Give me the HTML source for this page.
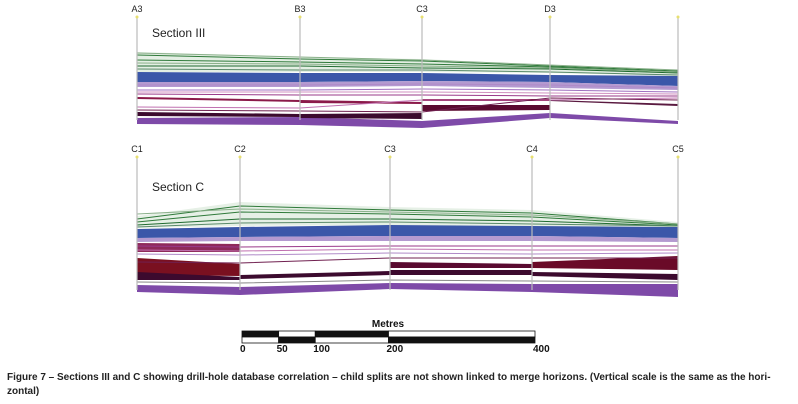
<!DOCTYPE html>
<html><head><meta charset="utf-8"><style>
html,body{margin:0;padding:0;background:#fff;width:798px;height:404px;overflow:hidden}
svg{position:absolute;left:0;top:0}
.cap{position:absolute;left:7px;font:bold 10px "Liberation Sans",Arial,sans-serif;color:#222;white-space:nowrap}
</style></head><body>
<svg id="chart" width="798" height="404" xmlns="http://www.w3.org/2000/svg"></svg>
<div class="cap" style="top:372px">Figure 7 – Sections III and C showing drill-hole database correlation – child splits are not shown linked to merge horizons. (Vertical scale is the same as the hori-</div>
<div class="cap" style="top:386px">zontal)</div>
<script>
// Section III
const holesIII = ["A3","B3","C3","D3",""];
const holeXIII = [137,300,422,550,678];
const fillsIII = [
 {c:"#e4efe4",t:[52,57,59,65,70],b:[72,72,72,73,76]},
 {c:"#3b57a9",t:[72,73,73,75,76],b:[82,82,81,82,86]},
 {c:"#b49ad0",t:[82,82,81,82,86],b:[87,87,86,88,90]},
 {c:"#7e4aa8",t:[118,117,121,113,121],b:[124,125,128,118,124]}
];
const segFillsIII = [
 {c:"#8b1a4a",i:0,t:[97,100],b:[99,102]},
 {c:"#8b1a4a",i:1,t:[100,102],b:[103,104]},
 {c:"#3c0a2e",i:0,t:[112,114],b:[116,117]},
 {c:"#3c0a2e",i:1,t:[114,113],b:[118,119]},
 {c:"#5a0a30",i:2,t:[105,105],b:[111,110]},
 {c:"#8b1a4a",i:2,t:[99,99],b:[101,101]},
 {c:"#5a1a40",i:3,t:[100,104],b:[101,106]}
];
const linesIII = [
 {c:"#2f7a3a",v:[55,59,61,66,71]},{c:"#2f7a3a",v:[60,62,64,67,72]},{c:"#1f6a2f",v:[66,66,68,69,73]},
 {c:"#8ab08a",v:[53,57,60,65,70]},{c:"#8ab08a",v:[63,64,66,68,72]},
 {c:"#5a8a6a",v:[69,70,70,72,75]},{c:"#a070c0",v:[90,90,89,90,92]},{c:"#9a3a8a",v:[94,95,95,96,96]},
 {c:"#c070b0",v:[107,108,100,100,98]},{c:"#702050",v:[110,111,112,98,100]},
 {c:"#b08ac8",v:[85,85,84,85,88]},{c:"#d090c0",v:[92,92,92,93,94]}
];
// Section C
const holesC = ["C1","C2","C3","C4","C5"];
const holeXC = [137,240,390,532,678];
const fillsC = [
 {c:"#e6f0e6",t:[216,202,207,210,222],b:[228,226,225,226,227]},
 {c:"#3b57a9",t:[229,227,225,226,227],b:[238,237,236,236,238]},
 {c:"#b49ad0",t:[238,237,236,236,238],b:[242,241,241,241,242]},
 {c:"#7e4aa8",t:[285,287,283,284,284],b:[292,295,289,292,297]}
];
const segFillsC = [
 {c:"#8e2a5a",i:0,t:[243,244],b:[252,252]},
 {c:"#7a1020",i:0,t:[258,264],b:[275,276]},
 {c:"#3c0a2e",i:0,t:[272,277],b:[280,280]},
 {c:"#3c0a2e",i:1,t:[275,271],b:[279,275]},
 {c:"#5a0a30",i:2,t:[262,264],b:[268,268]},
 {c:"#3c0a2e",i:2,t:[270,270],b:[275,275]},
 {c:"#6a0a28",i:3,t:[262,256],b:[268,270]},
 {c:"#3c0a2e",i:3,t:[272,274],b:[276,280]}
];
const linesC = [
 {c:"#2f7a3a",v:[219,206,210,213,224]},{c:"#2f7a3a",v:[222,212,214,217,225]},{c:"#1f6a2f",v:[225,219,219,221,226]},
 {c:"#8ab08a",v:[214,209,212,215,224]},{c:"#5a8a6a",v:[227,223,222,224,226]},
 {c:"#9a3a8a",v:[246,247,246,246,246]},{c:"#c070b0",v:[250,251,249,250,250]},{c:"#702050",v:[262,263,258,258,258]},
 {c:"#b08ac8",v:[254,255,253,254,253]},{c:"#888",v:[282,283,280,281,282]}
];
const NS="http://www.w3.org/2000/svg";
const svg=document.getElementById('chart');
function mk(tag,attrs){const e=document.createElementNS(NS,tag);for(const k in attrs)e.setAttribute(k,attrs[k]);svg.appendChild(e);return e;}
function drawSection(name,holes,xs,fills,segs,lines,collarY,lineTop,lineBot,title,titleY){
 fills.forEach((f,j)=>{let p=xs.map((x,i)=>x+","+f.t[i]).concat(xs.map((x,i)=>x+","+f.b[i]).reverse());
  const e=mk('polygon',{points:p.join(" "),fill:f.c});
  
  });
 segs.forEach((s,j)=>{const x0=xs[s.i],x1=xs[s.i+1];
  const e=mk('polygon',{points:`${x0},${s.t[0]} ${x1},${s.t[1]} ${x1},${s.b[1]} ${x0},${s.b[0]}`,fill:s.c});
  
  });
 lines.forEach((l,j)=>{const e=mk('polyline',{points:xs.map((x,i)=>x+","+l.v[i]).join(" "),fill:"none",stroke:l.c,"stroke-width":1});
  
  });
 xs.forEach((x,i)=>{const e=mk('line',{x1:x,x2:x,y1:lineTop,y2:lineBot,stroke:"#bbb","stroke-width":1.2});
  
  
  const d=mk('circle',{cx:x,cy:lineTop,r:1.5,fill:"#e8e070"});
  
  
  if(holes[i]){const t=mk('text',{x:x,y:collarY,"text-anchor":"middle","font-family":"Liberation Sans, sans-serif","font-size":9,fill:"#222"});t.textContent=holes[i];
   
   }});
 const t=mk('text',{x:152,y:titleY,"font-family":"Liberation Sans, sans-serif","font-size":12,fill:"#222"});t.textContent=title;
 
 
}
drawSection('section-iii',holesIII,holeXIII,fillsIII,segFillsIII,linesIII,12,17,120,"Section III",37);
drawSection('section-c',holesC,holeXC,fillsC,segFillsC,linesC,152,157,290,"Section C",191);
// scale bar
const scaleVals=[0,50,100,200,400];
const sx=v=>242+v*(535-242)/400;
for(let i=0;i<4;i++){const x0=sx(scaleVals[i]),x1=sx(scaleVals[i+1]);
 const a=mk('rect',{x:x0,y:331,width:x1-x0,height:6,fill:i%2?"#fff":"#111",stroke:"#111","stroke-width":0.8});
 
 
 const b=mk('rect',{x:x0,y:337,width:x1-x0,height:6,fill:i%2?"#111":"#fff",stroke:"#111","stroke-width":0.8});
 
 }
scaleVals.forEach(v=>{const t=mk('text',{x:sx(v)-2,y:352,"font-family":"Liberation Sans, sans-serif","font-size":10,"font-weight":"bold",fill:"#111"});t.textContent=v;
 
 });
const mt=mk('text',{x:388,y:327,"text-anchor":"middle","font-family":"Liberation Sans, sans-serif","font-size":10,"font-weight":"bold",fill:"#111"});mt.textContent="Metres";


</script>
</body></html>
